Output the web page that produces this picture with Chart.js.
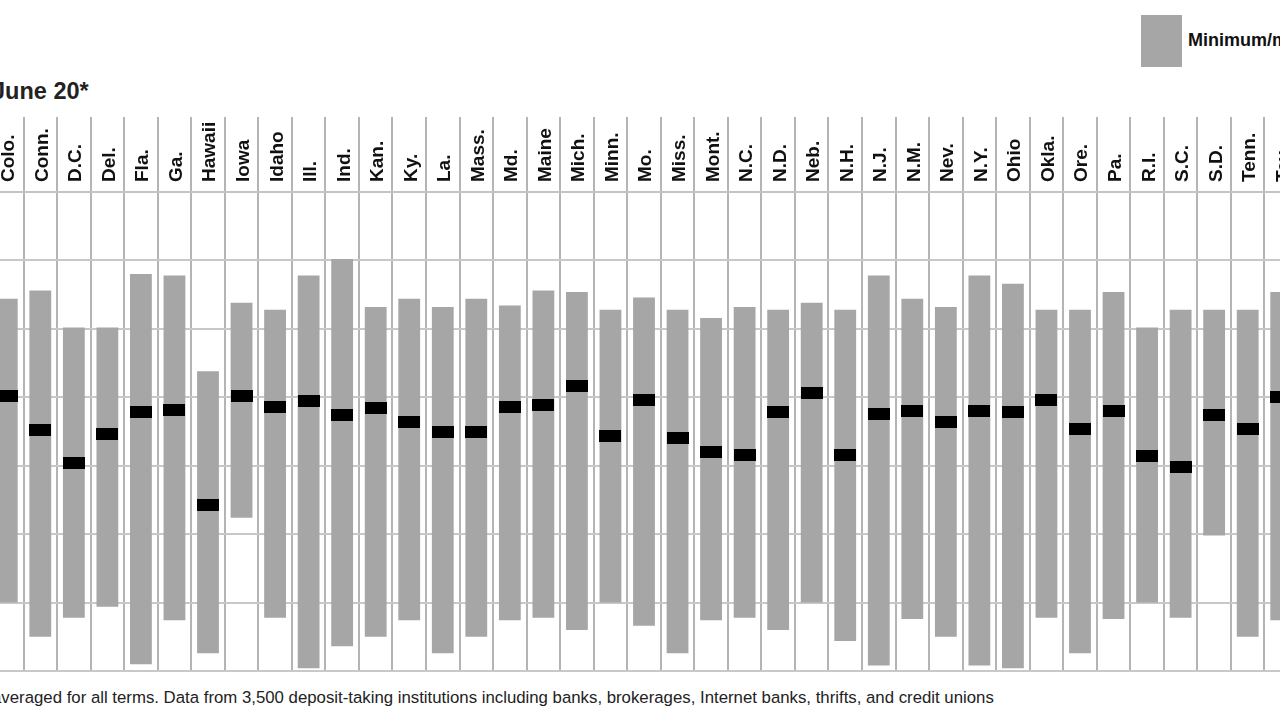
<!DOCTYPE html>
<html lang="en">

<head>
  <meta charset="UTF-8">
  <title>CD rates by state</title>
  <style>
    html, body { margin: 0; padding: 0; background: #fff; }
    body { width: 1280px; height: 720px; overflow: hidden; position: relative; }
    .title {
      position: absolute; left: -8px; top: 78px; line-height: 1;
      font: bold 23.5px "Liberation Sans Narrow", "Liberation Sans", sans-serif; color: #222;
    }
    .legend-box { position: absolute; left: 1141px; top: 15px; width: 41px; height: 52px; background: #a6a6a6; }
    .legend-text {
      position: absolute; left: 1188px; top: 30px; white-space: nowrap;
      font: bold 18px "Liberation Sans Narrow", "Liberation Sans", sans-serif; color: #111;
    }
    .note {
      position: absolute; left: -8px; top: 688px; white-space: nowrap;
      font: 16.8px "Liberation Sans", sans-serif; color: #222;
    }
    .chart-wrap { position: absolute; left: -10.5px; top: 117px; width: 1308px; height: 556px; }
  </style>
</head>

<body>
  <div class="title">June 20*</div>
  <div class="legend-box"></div>
  <div class="legend-text">Minimum/maximum</div>
  <div class="chart-wrap"><canvas id="rateChart"></canvas></div>
  <div class="note">averaged for all terms. Data from 3,500 deposit-taking institutions including banks, brokerages, Internet banks, thrifts, and credit unions</div>

  <script src="https://cdn.jsdelivr.net/npm/chart.js"></script>
  <script>
    const states = ['Colo.', 'Conn.', 'D.C.', 'Del.', 'Fla.', 'Ga.', 'Hawaii', 'Iowa', 'Idaho', 'Ill.',
      'Ind.', 'Kan.', 'Ky.', 'La.', 'Mass.', 'Md.', 'Maine', 'Mich.', 'Minn.', 'Mo.',
      'Miss.', 'Mont.', 'N.C.', 'N.D.', 'Neb.', 'N.H.', 'N.J.', 'N.M.', 'Nev.', 'N.Y.',
      'Ohio', 'Okla.', 'Ore.', 'Pa.', 'R.I.', 'S.C.', 'S.D.', 'Tenn.', 'Tex.'];
    const maxRates = [2.72, 2.78, 2.51, 2.51, 2.90, 2.89, 2.19, 2.69, 2.64, 2.89,
      3.01, 2.66, 2.72, 2.66, 2.72, 2.67, 2.78, 2.77, 2.64, 2.73,
      2.64, 2.58, 2.66, 2.64, 2.69, 2.64, 2.89, 2.72, 2.66, 2.89,
      2.83, 2.64, 2.64, 2.77, 2.51, 2.64, 2.64, 2.64, 2.77];
    const minRates = [0.50, 0.25, 0.39, 0.47, 0.05, 0.37, 0.13, 1.12, 0.39, 0.02,
      0.18, 0.25, 0.37, 0.13, 0.25, 0.37, 0.39, 0.30, 0.50, 0.33,
      0.13, 0.37, 0.39, 0.30, 0.50, 0.22, 0.04, 0.38, 0.25, 0.04,
      0.02, 0.39, 0.13, 0.38, 0.50, 0.39, 0.99, 0.25, 0.37];
    const avgRates = [2.01, 1.76, 1.52, 1.73, 1.89, 1.91, 1.21, 2.01, 1.93, 1.97,
      1.87, 1.92, 1.82, 1.75, 1.75, 1.93, 1.94, 2.08, 1.72, 1.98,
      1.70, 1.60, 1.58, 1.89, 2.03, 1.58, 1.88, 1.90, 1.82, 1.90,
      1.89, 1.98, 1.77, 1.90, 1.57, 1.49, 1.87, 1.77, 2.00];
    const yMin = 0, yMax = 3.5, yStep = 0.5;

    // black tick used as the average marker
    const marker = document.createElement('canvas');
    marker.width = 22; marker.height = 12;
    const mctx = marker.getContext('2d');
    mctx.fillStyle = '#000';
    mctx.fillRect(0, 0, 22, 12);

    new Chart(document.getElementById('rateChart'), {
      type: 'bar',
      data: {
        labels: states,
        datasets: [{
          type: 'line',
          label: 'Average',
          data: avgRates,
          showLine: false,
          pointStyle: marker,
          pointRadius: 6,
          order: 0
        }, {
          label: 'Minimum/maximum',
          data: minRates.map((v, i) => [v, maxRates[i]]),
          backgroundColor: '#a6a6a6',
          borderWidth: 0,
          barPercentage: 0.65,
          categoryPercentage: 1,
          order: 1
        }]
      },
      options: {
        responsive: true,
        maintainAspectRatio: false,
        animation: false,
        layout: { autoPadding: false, padding: { left: 0, right: 0, top: 0, bottom: 2 } },
        plugins: { legend: { display: false }, tooltip: { enabled: false } },
        scales: {
          x: {
            position: 'top',
            offset: true,
            afterFit: s => { s.height = 75; s.paddingLeft = 0; s.paddingRight = 0; },
            grid: { offset: true, color: '#b4b4b4', lineWidth: 2, tickLength: 75 },
            border: { color: '#c4c4c4', width: 2 },
            ticks: {
              autoSkip: false, minRotation: 90, maxRotation: 90, padding: -65, labelOffset: 25,
              color: '#111',
              font: { family: '"Liberation Sans Narrow", "Liberation Sans", sans-serif', size: 19, weight: 'bold' }
            }
          },
          y: {
            min: yMin, max: yMax,
            afterFit: s => { s.width = 0; },
            ticks: { display: false, stepSize: yStep },
            grid: { color: '#c8c8c8', lineWidth: 2, drawTicks: false },
            border: { display: false }
          }
        }
      }
    });
  </script>
</body>

</html>
